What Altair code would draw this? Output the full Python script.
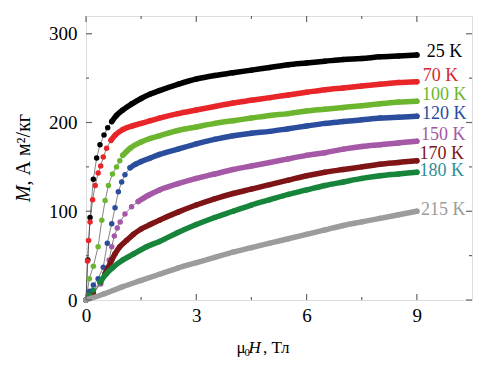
import altair as alt
import pandas as pd

series_names = ["25 K", "70 K", "100 K", "120 K", "150 K", "170 K", "180 K", "215 K"]
curve_colors = ["#000000", "#e8262a", "#6cb62f", "#2b4d9d", "#a458a6", "#7f1416", "#16843a", "#9c9c9c"]
label_colors = ["#000000", "#d42a2e", "#6cb62f", "#2b4d9d", "#a458a6", "#7f1416", "#2f8f96", "#9c9c9c"]

H_25 = [0, 0.05, 0.11, 0.2, 0.29, 0.38, 0.49, 0.59, 0.7, 0.83, 1.0, 1.25, 1.5, 1.75, 2, 2.5, 3, 3.5, 4, 4.5, 5, 5.5, 6, 6.5, 7, 7.5, 8, 8.5, 9]
M_25 = [0, 45, 93, 136, 160, 175, 186, 194, 201, 208, 214, 221, 227, 232, 236, 243, 249, 253, 256, 259, 262, 265, 267, 269, 271, 272, 274, 275, 276]

H_70 = [0, 0.04, 0.07, 0.11, 0.18, 0.25, 0.33, 0.4, 0.47, 0.56, 0.68, 0.8, 1.0, 1.25, 1.5, 1.75, 2, 2.5, 3, 3.5, 4, 4.5, 5, 5.5, 6, 6.5, 7, 7.5, 8, 8.5, 9]
M_70 = [0, 44, 67, 88, 113, 129, 143, 151, 161, 171, 180, 186, 192, 196, 199, 202, 205, 210, 214, 218, 222, 225, 228, 231, 234, 237, 239, 241, 243, 245, 246]

H_100 = [0, 0.09, 0.2, 0.33, 0.43, 0.52, 0.61, 0.72, 0.83, 0.92, 1.0, 1.2, 1.5, 1.75, 2, 2.5, 3, 3.5, 4, 4.5, 5, 5.5, 6, 6.5, 7, 7.5, 8, 8.5, 9]
M_100 = [0, 24, 38, 60, 90, 112, 129, 142, 150, 157, 163, 171, 178, 182, 185, 191, 195, 199, 202, 205, 208, 210, 213, 215, 217, 219, 221, 223, 224]

H_120 = [0, 0.1, 0.2, 0.33, 0.47, 0.58, 0.7, 0.79, 0.88, 0.97, 1.06, 1.2, 1.35, 1.5, 1.75, 2, 2.5, 3, 3.5, 4, 4.5, 5, 5.5, 6, 6.5, 7, 7.5, 8, 8.5, 9]
M_120 = [0, 10, 17, 24, 37, 64, 86, 104, 122, 133, 141, 149, 153, 156, 160, 164, 170, 176, 181, 185, 188, 190, 193, 196, 199, 201, 203, 205, 206, 207]

H_150 = [0, 0.2, 0.4, 0.55, 0.63, 0.7, 0.77, 0.85, 0.93, 1.06, 1.24, 1.42, 1.7, 2, 2.5, 3, 3.5, 4, 4.5, 5, 5.5, 6, 6.5, 7, 7.5, 8, 8.5, 9]
M_150 = [0, 8, 18, 32, 45, 60, 72, 81, 88, 97, 105, 111, 118, 124, 131, 137, 142, 147, 151, 155, 159, 163, 166, 170, 173, 175, 177, 179]

H_170 = [0, 0.2, 0.4, 0.52, 0.61, 0.7, 0.79, 0.92, 1.1, 1.29, 1.5, 1.75, 2, 2.5, 3, 3.5, 4, 4.5, 5, 5.5, 6, 6.5, 7, 7.5, 8, 8.5, 9]
M_170 = [0, 8, 20, 30, 37, 45, 52, 60, 67, 74, 80, 85, 90, 99, 107, 114, 120, 125, 130, 135, 140, 144, 147, 150, 153, 155, 157]

H_180 = [0, 0.1, 0.2, 0.38, 0.56, 0.74, 1.0, 1.3, 1.65, 2, 2.5, 3, 3.5, 4, 4.5, 5, 5.5, 6, 6.5, 7, 7.5, 8, 8.5, 9]
M_180 = [0, 6, 11, 20, 30, 37, 45, 52, 60, 66, 76, 85, 93, 100, 107, 113, 119, 124, 129, 133, 137, 140, 142, 144]

H_215 = [0, 0.5, 1, 1.5, 2, 2.5, 3, 3.5, 4, 4.5, 5, 5.5, 6, 6.5, 7, 7.5, 8, 8.5, 9]
M_215 = [0, 7, 15, 22, 29, 36, 42, 48, 54, 59, 64, 69, 74, 79, 84, 88, 92, 96, 100]

# field above which the measured points merge into a continuous band
dense_from = [0.65, 0.65, 0.95, 1.15, 1.3, 0.45, 0.3, 0.0]

label_H = [9.27, 9.16, 9.14, 9.14, 9.11, 9.07, 9.07, 9.11]
label_M = [280, 252, 231, 210, 186, 164, 145, 101]

x_major = [0, 3, 6, 9]
x_minor = [1.5, 4.5, 7.5]
y_major = [0, 100, 200, 300]
y_minor = [50, 150, 250]

all_H = [H_25, H_70, H_100, H_120, H_150, H_170, H_180, H_215]
all_M = [M_25, M_70, M_100, M_120, M_150, M_170, M_180, M_215]

rows = []
for i, (name, hs, ms) in enumerate(zip(series_names, all_H, all_M)):
    for h, m in zip(hs, ms):
        rows.append({"series": name, "idx": i, "H": h, "M": m, "dense": h >= dense_from[i]})
df = pd.DataFrame(rows)

labels_df = pd.DataFrame({"series": series_names, "H": label_H, "M": label_M, "col": label_colors})

W, Ht = 386, 284
FONT = "'Liberation Serif', 'Times New Roman', Times, serif"
xs = alt.Scale(domain=[0, 10.5], nice=False, zero=False)
ys = alt.Scale(domain=[0, 320], nice=False, zero=False)
cs = alt.Scale(domain=series_names, range=curve_colors)

x_axis = alt.Axis(values=x_major, ticks=False, tickSize=0, domain=False, grid=False, labelFlush=False,
                  labelFont=FONT, labelFontSize=19, labelColor="#000", labelPadding=6, title=None)
y_axis = alt.Axis(values=y_major, ticks=False, tickSize=0, domain=False, grid=False, labelFlush=False,
                  labelFont=FONT, labelFontSize=19, labelColor="#000", labelPadding=9, title=None)

base = alt.Chart(df)

thin = base.mark_line(strokeWidth=0.6, color="#333333").encode(
    x=alt.X("H:Q", scale=xs, axis=x_axis),
    y=alt.Y("M:Q", scale=ys, axis=y_axis),
    detail="series:N",
    order="H:Q",
)

dots = base.mark_circle(size=30, opacity=1).encode(
    x=alt.X("H:Q", scale=xs),
    y=alt.Y("M:Q", scale=ys),
    color=alt.Color("series:N", scale=cs, legend=None),
)

thick = base.transform_filter("datum.dense").mark_line(strokeWidth=5.5, strokeCap="round", interpolate="monotone").encode(
    x=alt.X("H:Q", scale=xs),
    y=alt.Y("M:Q", scale=ys),
    color=alt.Color("series:N", scale=cs, legend=None),
    order="H:Q",
)

labels = alt.Chart(labels_df).mark_text(font=FONT, fontSize=18, align="left", baseline="middle").encode(
    x=alt.X("H:Q", scale=xs),
    y=alt.Y("M:Q", scale=ys),
    text="series:N",
    color=alt.Color("col:N", scale=None),
)

TICK = "#666666"

def xticks(vals, length, top):
    d = pd.DataFrame({"v": vals})
    if top:
        y1, y2 = 0, length
    else:
        y1, y2 = Ht, Ht - length
    return alt.Chart(d).mark_rule(color=TICK, strokeWidth=1.2).encode(
        x=alt.X("v:Q", scale=xs), y=alt.value(y1), y2=alt.value(y2))

def yticks(vals, length, right):
    d = pd.DataFrame({"v": vals})
    if right:
        x1, x2 = W, W - length
    else:
        x1, x2 = 0, length
    return alt.Chart(d).mark_rule(color=TICK, strokeWidth=1.2).encode(
        y=alt.Y("v:Q", scale=ys), x=alt.value(x1), x2=alt.value(x2))

tick_layers = [
    xticks(x_major, 6, False), xticks(x_minor, 3, False),
    xticks(x_major, 6, True), xticks(x_minor, 3, True),
    yticks(y_major, 6, False), yticks(y_minor, 3, False),
    yticks(y_major, 6, True), yticks(y_minor, 3, True),
]

def txt(s, x, y, size=17, style="normal", angle=0):
    kw = dict(text=s, font=FONT, fontSize=size, fontStyle=style, align="left",
              baseline="alphabetic", color="#000")
    if angle:
        kw["angle"] = angle
    return alt.Chart(pd.DataFrame({"a": [0]})).mark_text(**kw).encode(
        x=alt.value(x), y=alt.value(y))

titles = [
    txt("μ", 150.5, 337),
    txt("0", 158.5, 340, size=11),
    txt("H", 162.5, 337, style="italic"),
    txt(", Тл", 177, 337),
    txt("M", -56, 186, size=20, style="italic", angle=270),
    txt(", А м²/кг", -56, 169.5, size=20, angle=270),
]

chart = alt.layer(thin, dots, thick, labels, *tick_layers, *titles).properties(
    width=W, height=Ht,
    autosize=alt.AutoSizeParams(type="none"),
    padding={"left": 78, "top": 8, "right": 5, "bottom": 70},
).configure_view(stroke="#808080", strokeWidth=1.6).configure(background="white")

chart.save("out.html", embed_options={"renderer": "svg", "actions": False})
